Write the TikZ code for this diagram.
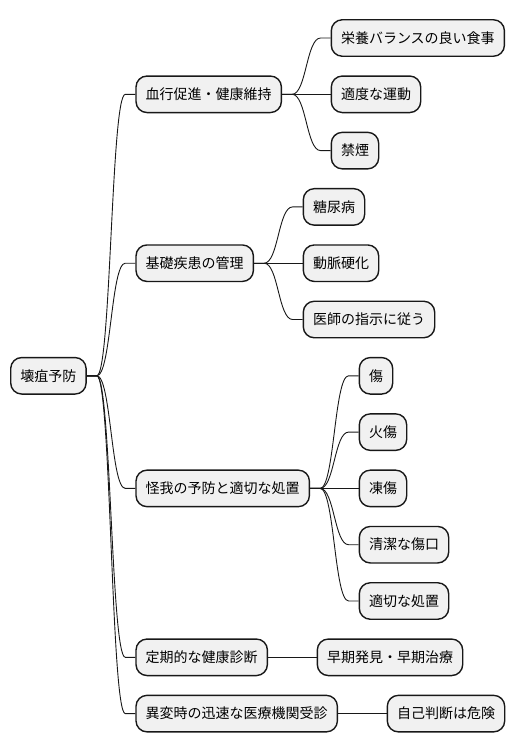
\documentclass[tikz,border=0pt]{standalone}
\usepackage{fontspec}
\setmainfont{Noto Sans CJK JP}
\usetikzlibrary{calc}
\definecolor{boxfill}{HTML}{F1F1F1}
\definecolor{boxline}{HTML}{181818}
\tikzset{
  mmbox/.style={draw=boxline, fill=boxfill, line width=1.4pt, rounded corners=11pt,
    inner xsep=9.7pt, inner ysep=0pt, minimum height=36.5pt,
    font=\fontsize{14}{16}\selectfont, anchor=west, text=black},
  mmlinkstyle/.style={draw=boxline, line width=0.9pt},
}
\newcommand\mmconnect[2]{\draw[mmlinkstyle] (#1.east) -- ++(10,0) .. controls +(14.25,0) and +(-14.25,0) .. ($(#2.west)+(-10,0)$) -- (#2.west);}
\newcommand\mmchild[4]{\node[mmbox] (#1) at ($(#2.east |- 0,#3)+(48.5,0)$) {#4};}
\begin{document}
\begin{tikzpicture}[x=1pt,y=-1pt]
\useasboundingbox (0,0) rectangle (516,752);
\node[mmbox] (r) at (10,375.8) {壊疽予防};
\mmchild{a}{r}{94.3}{血行促進・健康維持}
\mmchild{b}{r}{263.2}{基礎疾患の管理}
\mmchild{c}{r}{488.4}{怪我の予防と適切な処置}
\mmchild{d}{r}{657.3}{定期的な健康診断}
\mmchild{e}{r}{713.6}{異変時の迅速な医療機関受診}
\mmchild{a1}{a}{38}{栄養バランスの良い食事}
\mmchild{a2}{a}{94.3}{適度な運動}
\mmchild{a3}{a}{150.6}{禁煙}
\mmchild{b1}{b}{206.9}{糖尿病}
\mmchild{b2}{b}{263.2}{動脈硬化}
\mmchild{b3}{b}{319.5}{医師の指示に従う}
\mmchild{c1}{c}{375.8}{傷}
\mmchild{c2}{c}{432.1}{火傷}
\mmchild{c3}{c}{488.4}{凍傷}
\mmchild{c4}{c}{544.7}{清潔な傷口}
\mmchild{c5}{c}{601}{適切な処置}
\mmchild{d1}{d}{657.3}{早期発見・早期治療}
\mmchild{e1}{e}{713.6}{自己判断は危険}
\foreach \p/\c in {r/a,r/b,r/c,r/d,r/e,a/a1,a/a2,a/a3,b/b1,b/b2,b/b3,c/c1,c/c2,c/c3,c/c4,c/c5,d/d1,e/e1}{
  \mmconnect{\p}{\c}
}
\end{tikzpicture}
\end{document}
